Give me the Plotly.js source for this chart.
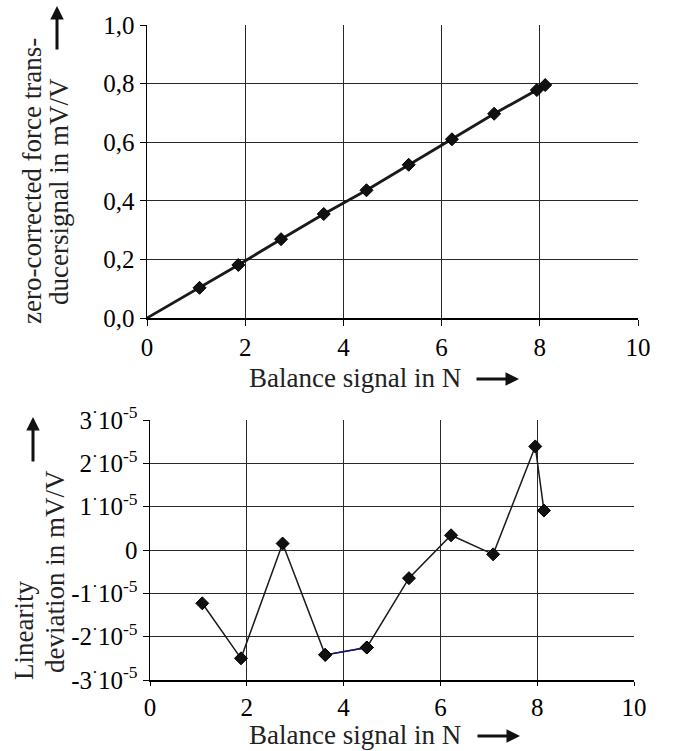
<!DOCTYPE html>
<html>
<head>
<meta charset="utf-8">
<script src="https://cdn.plot.ly/plotly-3.0.1.min.js"></script>
<style>
html,body{margin:0;padding:0;background:#fff;}
#chart{width:680px;height:751px;}
</style>
</head>
<body>
<div id="chart"></div>
<script>
// ---- data ----
const forceX = [1.07, 1.86, 2.73, 3.60, 4.47, 5.33, 6.21, 7.07, 7.94, 8.11];
const forceY = [0.103, 0.181, 0.269, 0.355, 0.436, 0.523, 0.610, 0.697, 0.778, 0.795];
const devX = [1.08, 1.88, 2.74, 3.62, 4.48, 5.35, 6.22, 7.09, 7.96, 8.14];
const devY = [-1.23e-5, -2.50e-5, 0.15e-5, -2.42e-5, -2.25e-5, -0.65e-5, 0.34e-5, -0.10e-5, 2.39e-5, 0.91e-5];
const xTickVals = [0, 2, 4, 6, 8, 10];
const xTickText = ['0', '2', '4', '6', '8', '10'];
const topTickVals = [0, 0.2, 0.4, 0.6, 0.8, 1.0];
const topTickText = ['0,0', '0,2', '0,4', '0,6', '0,8', '1,0'];
const botTickVals = [-3e-5, -2e-5, -1e-5, 0, 1e-5, 2e-5, 3e-5];
const botTickText = ['-3<sup>·</sup>10<sup>-5</sup>', '-2<sup>·</sup>10<sup>-5</sup>', '-1<sup>·</sup>10<sup>-5</sup>', '0',
  '1<sup>·</sup>10<sup>-5</sup>', '2<sup>·</sup>10<sup>-5</sup>', '3<sup>·</sup>10<sup>-5</sup>'];
const xTitle = 'Balance signal in N';
const topTitle1 = 'zero-corrected force trans-';
const topTitle2 = 'ducersignal in mV/V';
const botTitle1 = 'Linearity';
const botTitle2 = 'deviation in mV/V';

const W = 680, H = 751;
const px = v => v / W;
const py = v => 1 - v / H;
const FONT = 'Liberation Serif';
const INK = '#111111';

const traces = [
  {x: [0].concat(forceX), y: [0].concat(forceY), xaxis: 'x', yaxis: 'y', mode: 'lines',
   line: {color: '#1a1a1a', width: 2.8}, hoverinfo: 'skip'},
  {x: forceX, y: forceY, xaxis: 'x', yaxis: 'y', mode: 'markers',
   marker: {symbol: 'diamond', size: 10, color: INK, line: {color: '#000', width: 1}}},
  {x: devX, y: devY, xaxis: 'x2', yaxis: 'y2', mode: 'lines+markers',
   line: {color: '#1a1a1a', width: 1.5},
   marker: {symbol: 'diamond', size: 10, color: INK, line: {color: '#000', width: 1}}},
  {x: devX.slice(3, 5), y: devY.slice(3, 5), xaxis: 'x2', yaxis: 'y2', mode: 'lines',
   line: {color: '#14147a', width: 1.5}, hoverinfo: 'skip'},
  {x: devX.slice(3, 5), y: devY.slice(3, 5), xaxis: 'x2', yaxis: 'y2', mode: 'markers',
   marker: {symbol: 'diamond', size: 10, color: INK, line: {color: '#000', width: 1}}}
];

const axCommon = {
  showgrid: true, gridcolor: '#2a2a2a', gridwidth: 1,
  showline: true, linecolor: '#000', linewidth: 1.5,
  ticks: 'outside', ticklen: 6, tickcolor: '#000', tickwidth: 1,
  zeroline: false, tickfont: {family: FONT, size: 25, color: '#000'},
  tickmode: 'array', fixedrange: true
};

const layout = {
  width: W, height: H,
  margin: {l: 0, r: 0, t: 0, b: 0},
  paper_bgcolor: '#fff', plot_bgcolor: '#fff',
  showlegend: false,
  font: {family: FONT},
  xaxis: Object.assign({}, axCommon, {domain: [px(147), px(638)], range: [0, 10],
    tickvals: xTickVals, ticktext: xTickText, anchor: 'y'}),
  yaxis: Object.assign({}, axCommon, {domain: [py(318), py(25)], range: [0, 1.0],
    tickvals: topTickVals, ticktext: topTickText, anchor: 'x'}),
  xaxis2: Object.assign({}, axCommon, {domain: [px(150), px(634)], range: [0, 10],
    tickvals: xTickVals, ticktext: xTickText, anchor: 'y2', ticklen: 4}),
  yaxis2: Object.assign({}, axCommon, {domain: [py(680), py(420)], range: [-3e-5, 3e-5],
    tickvals: botTickVals, ticktext: botTickText, anchor: 'x2'}),
  annotations: [
    {xref: 'paper', yref: 'paper', x: px(355), y: py(378), text: xTitle, showarrow: false,
     font: {family: FONT, size: 27, color: '#222'}, xanchor: 'center', yanchor: 'middle'},
    {xref: 'paper', yref: 'paper', x: px(355), y: py(735), text: xTitle, showarrow: false,
     font: {family: FONT, size: 27, color: '#222'}, xanchor: 'center', yanchor: 'middle'},
    {xref: 'paper', yref: 'paper', x: px(32), y: py(181), text: topTitle1, showarrow: false,
     textangle: -90, font: {family: FONT, size: 27, color: '#222'}, xanchor: 'center', yanchor: 'middle'},
    {xref: 'paper', yref: 'paper', x: px(59), y: py(192), text: topTitle2, showarrow: false,
     textangle: -90, font: {family: FONT, size: 27, color: '#222'}, xanchor: 'center', yanchor: 'middle'},
    {xref: 'paper', yref: 'paper', x: px(24), y: py(631), text: botTitle1, showarrow: false,
     textangle: -90, font: {family: FONT, size: 27, color: '#222'}, xanchor: 'center', yanchor: 'middle'},
    {xref: 'paper', yref: 'paper', x: px(55), y: py(572), text: botTitle2, showarrow: false,
     textangle: -90, font: {family: FONT, size: 27, color: '#222'}, xanchor: 'center', yanchor: 'middle'},
    // arrows
    {xref: 'paper', yref: 'paper', x: px(519), y: py(379), ax: -44, ay: 0, text: '', showarrow: true,
     arrowhead: 2, arrowsize: 0.9, arrowwidth: 3, arrowcolor: '#111'},
    {xref: 'paper', yref: 'paper', x: px(520), y: py(736), ax: -44, ay: 0, text: '', showarrow: true,
     arrowhead: 2, arrowsize: 0.9, arrowwidth: 3, arrowcolor: '#111'},
    {xref: 'paper', yref: 'paper', x: px(57), y: py(6), ax: 0, ay: 45, text: '', showarrow: true,
     arrowhead: 2, arrowsize: 0.9, arrowwidth: 3, arrowcolor: '#111'},
    {xref: 'paper', yref: 'paper', x: px(33), y: py(417), ax: 0, ay: 46, text: '', showarrow: true,
     arrowhead: 2, arrowsize: 0.9, arrowwidth: 3, arrowcolor: '#111'}
  ]
};

Plotly.newPlot('chart', traces, layout, {staticPlot: true, displayModeBar: false});
</script>
</body>
</html>
